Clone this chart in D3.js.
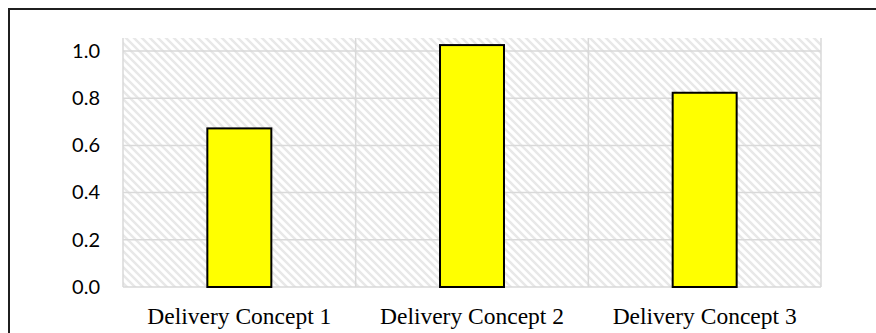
<!DOCTYPE html>
<html>
<head>
<meta charset="utf-8">
<script src="https://cdn.jsdelivr.net/npm/d3@7"></script>
<style>
  html, body { margin: 0; padding: 0; background: #fff; }
  svg { display: block; }
</style>
</head>
<body>
<div id="chart"></div>
<script>
// Chart data
const categories = ["Delivery Concept 1", "Delivery Concept 2", "Delivery Concept 3"];
const values = [0.672, 1.025, 0.823];
const yTicks = [0.0, 0.2, 0.4, 0.6, 0.8, 1.0];
const yMax = 1.055;

const W = 876, H = 333;
const plot = { left: 123, right: 821, top: 38, bottom: 287 };

const svg = d3.select("#chart").append("svg")
  .attr("width", W).attr("height", H);

// Diagonal hatch used as plot-area fill
const defs = svg.append("defs");
const pat = defs.append("pattern")
  .attr("id", "hatch")
  .attr("patternUnits", "userSpaceOnUse")
  .attr("width", 8).attr("height", 8);
pat.append("rect").attr("width", 8).attr("height", 8).attr("fill", "#fff");
pat.append("path")
  .attr("d", "M-2,-2 L10,10 M-2,6 L2,10 M6,-2 L10,2")
  .attr("stroke", "#e8e8e8").attr("stroke-width", 2.4);

const x = d3.scaleBand().domain(categories).range([plot.left, plot.right]);
const y = d3.scaleLinear().domain([0, yMax]).range([plot.bottom, plot.top]);

// Outer frame (top and left edges)
svg.append("path")
  .attr("d", `M9,${H + 5} L9,9 L${W + 5},9`)
  .attr("fill", "none").attr("stroke", "#1f1f1f").attr("stroke-width", 2);

// Plot area
svg.append("rect")
  .attr("x", plot.left).attr("y", plot.top)
  .attr("width", plot.right - plot.left).attr("height", plot.bottom - plot.top)
  .attr("fill", "url(#hatch)");

// Horizontal gridlines
svg.append("g").selectAll("line").data(yTicks).join("line")
  .attr("x1", plot.left).attr("x2", plot.right)
  .attr("y1", d => y(d)).attr("y2", d => y(d))
  .attr("stroke", "#d9d9d9").attr("stroke-width", 1.5);

// Vertical gridlines at category boundaries
const bounds = categories.map(c => x(c)).concat([x(categories[categories.length - 1]) + x.bandwidth()]);
svg.append("g").selectAll("line").data(bounds).join("line")
  .attr("x1", d => d).attr("x2", d => d)
  .attr("y1", plot.top).attr("y2", plot.bottom)
  .attr("stroke", "#d9d9d9").attr("stroke-width", 1.5);

// Bars
const barW = x.bandwidth() * 0.275;
svg.append("g").selectAll("rect").data(values).join("rect")
  .attr("x", (d, i) => x(categories[i]) + (x.bandwidth() - barW) / 2)
  .attr("y", d => y(d))
  .attr("width", barW)
  .attr("height", d => y(0) - y(d))
  .attr("fill", "#ffff00")
  .attr("stroke", "#000").attr("stroke-width", 2);

// Y axis labels
const yAxis = d3.axisLeft(y).tickValues(yTicks).tickFormat(d3.format(".1f")).tickSize(0).tickPadding(0);
const gy = svg.append("g").attr("transform", `translate(100,0)`).call(yAxis);
gy.select(".domain").remove();
gy.selectAll("text")
  .attr("font-family", "Lato, 'Open Sans', sans-serif")
  .attr("font-size", 20).attr("fill", "#000");

// X axis labels
const xAxis = d3.axisBottom(x).tickSize(0).tickPadding(0);
const gx = svg.append("g").attr("transform", `translate(0,${plot.bottom})`).call(xAxis);
gx.select(".domain").remove();
gx.selectAll("text")
  .attr("dy", 0).attr("y", 37)
  .attr("font-family", "'Liberation Serif', 'Times New Roman', serif")
  .attr("font-size", 23.5).attr("fill", "#000");
</script>
</body>
</html>
